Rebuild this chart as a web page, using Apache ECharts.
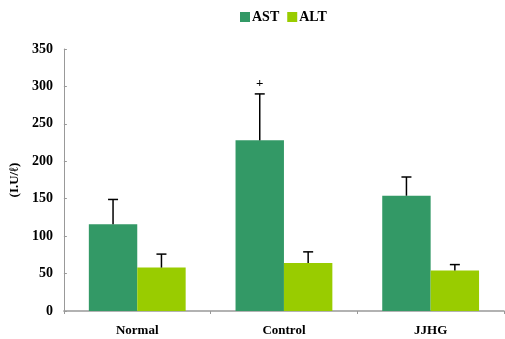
<!DOCTYPE html>
<html><head><meta charset="utf-8">
<script src="https://cdn.jsdelivr.net/npm/echarts@6/dist/echarts.min.js"></script>
<style>html,body{margin:0;padding:0;background:#fff}#c{width:505px;height:339px}</style>
</head><body><div id="c"></div>
<script>
var categories = ['Normal', 'Control', 'JJHG'];
var astValues = [116, 228, 154];
var astErrors = [33, 62, 25];
var altValues = [58, 64, 54];
var altErrors = [18, 15, 8];
var astMarks = ['', '+', ''];
var yTicks = [0, 50, 100, 150, 200, 250, 300, 350];

var font = '"Liberation Serif", "Times New Roman", serif';
var chart = echarts.init(document.getElementById('c'));

function errSeries(name, vals, errs, marks, side) {
  return {
    type: 'custom', name: name + ' err', z: 5, silent: true,
    data: vals.map(function (v, i) { return [i, v, v + errs[i], marks ? marks[i] : '']; }),
    renderItem: function (params, api) {
      var cat = api.size([1, 0])[0];
      var bw = cat * 0.66 / 2;
      var base = api.coord([api.value(0), api.value(1)]);
      var top = api.coord([api.value(0), api.value(2)]);
      var x = base[0] + side * bw / 2;
      var children = [
        { type: 'line', shape: { x1: x, y1: base[1], x2: x, y2: top[1] }, style: { stroke: '#000', lineWidth: 1.5 } },
        { type: 'line', shape: { x1: x - 5, y1: top[1], x2: x + 5, y2: top[1] }, style: { stroke: '#000', lineWidth: 1.5 } }
      ];
      var m = api.value(3);
      if (m) {
        children.push({ type: 'text', style: { text: String(m), x: x, y: top[1] - 4, align: 'center', verticalAlign: 'bottom', font: 'bold 13px ' + font, fill: '#000' } });
      }
      return { type: 'group', children: children };
    }
  };
}

chart.setOption({
  animation: false,
  legend: {
    data: ['AST', 'ALT'], top: 5, left: 235, itemWidth: 10, itemHeight: 10, itemGap: 8,
    icon: 'rect',
    textStyle: { fontFamily: font, fontWeight: 'bold', fontSize: 14, color: '#000', padding: [0, 0, 0, -3] }
  },
  grid: { left: 62, right: 1, top: 49, bottom: 28, containLabel: false },
  xAxis: {
    type: 'category', data: categories,
    axisLine: { lineStyle: { color: '#999', width: 1.5 } },
    axisTick: { show: true, length: 3, lineStyle: { color: '#999' } },
    axisLabel: { fontFamily: font, fontWeight: 'bold', fontSize: 13, color: '#000', margin: 13 }
  },
  yAxis: {
    type: 'value', min: yTicks[0], max: yTicks[yTicks.length - 1], interval: 50,
    name: '(I.U/ℓ)', nameLocation: 'middle', nameGap: 42, nameRotate: 90,
    nameTextStyle: { fontFamily: font, fontWeight: 'bold', fontSize: 13, color: '#000' },
    splitLine: { show: false },
    axisLine: { show: true, lineStyle: { color: '#999', width: 1 } },
    axisTick: { show: true, inside: true, length: 3, lineStyle: { color: '#999' } },
    axisLabel: { fontFamily: font, fontWeight: 'bold', fontSize: 14, color: '#000', margin: 11 }
  },
  series: [
    { name: 'AST', type: 'bar', data: astValues, barGap: 0, barCategoryGap: '34%', itemStyle: { color: '#339966' } },
    { name: 'ALT', type: 'bar', data: altValues, barGap: 0, barCategoryGap: '34%', itemStyle: { color: '#99cc00' } },
    errSeries('AST', astValues, astErrors, astMarks, -1),
    errSeries('ALT', altValues, altErrors, null, 1)
  ]
});
</script></body></html>
